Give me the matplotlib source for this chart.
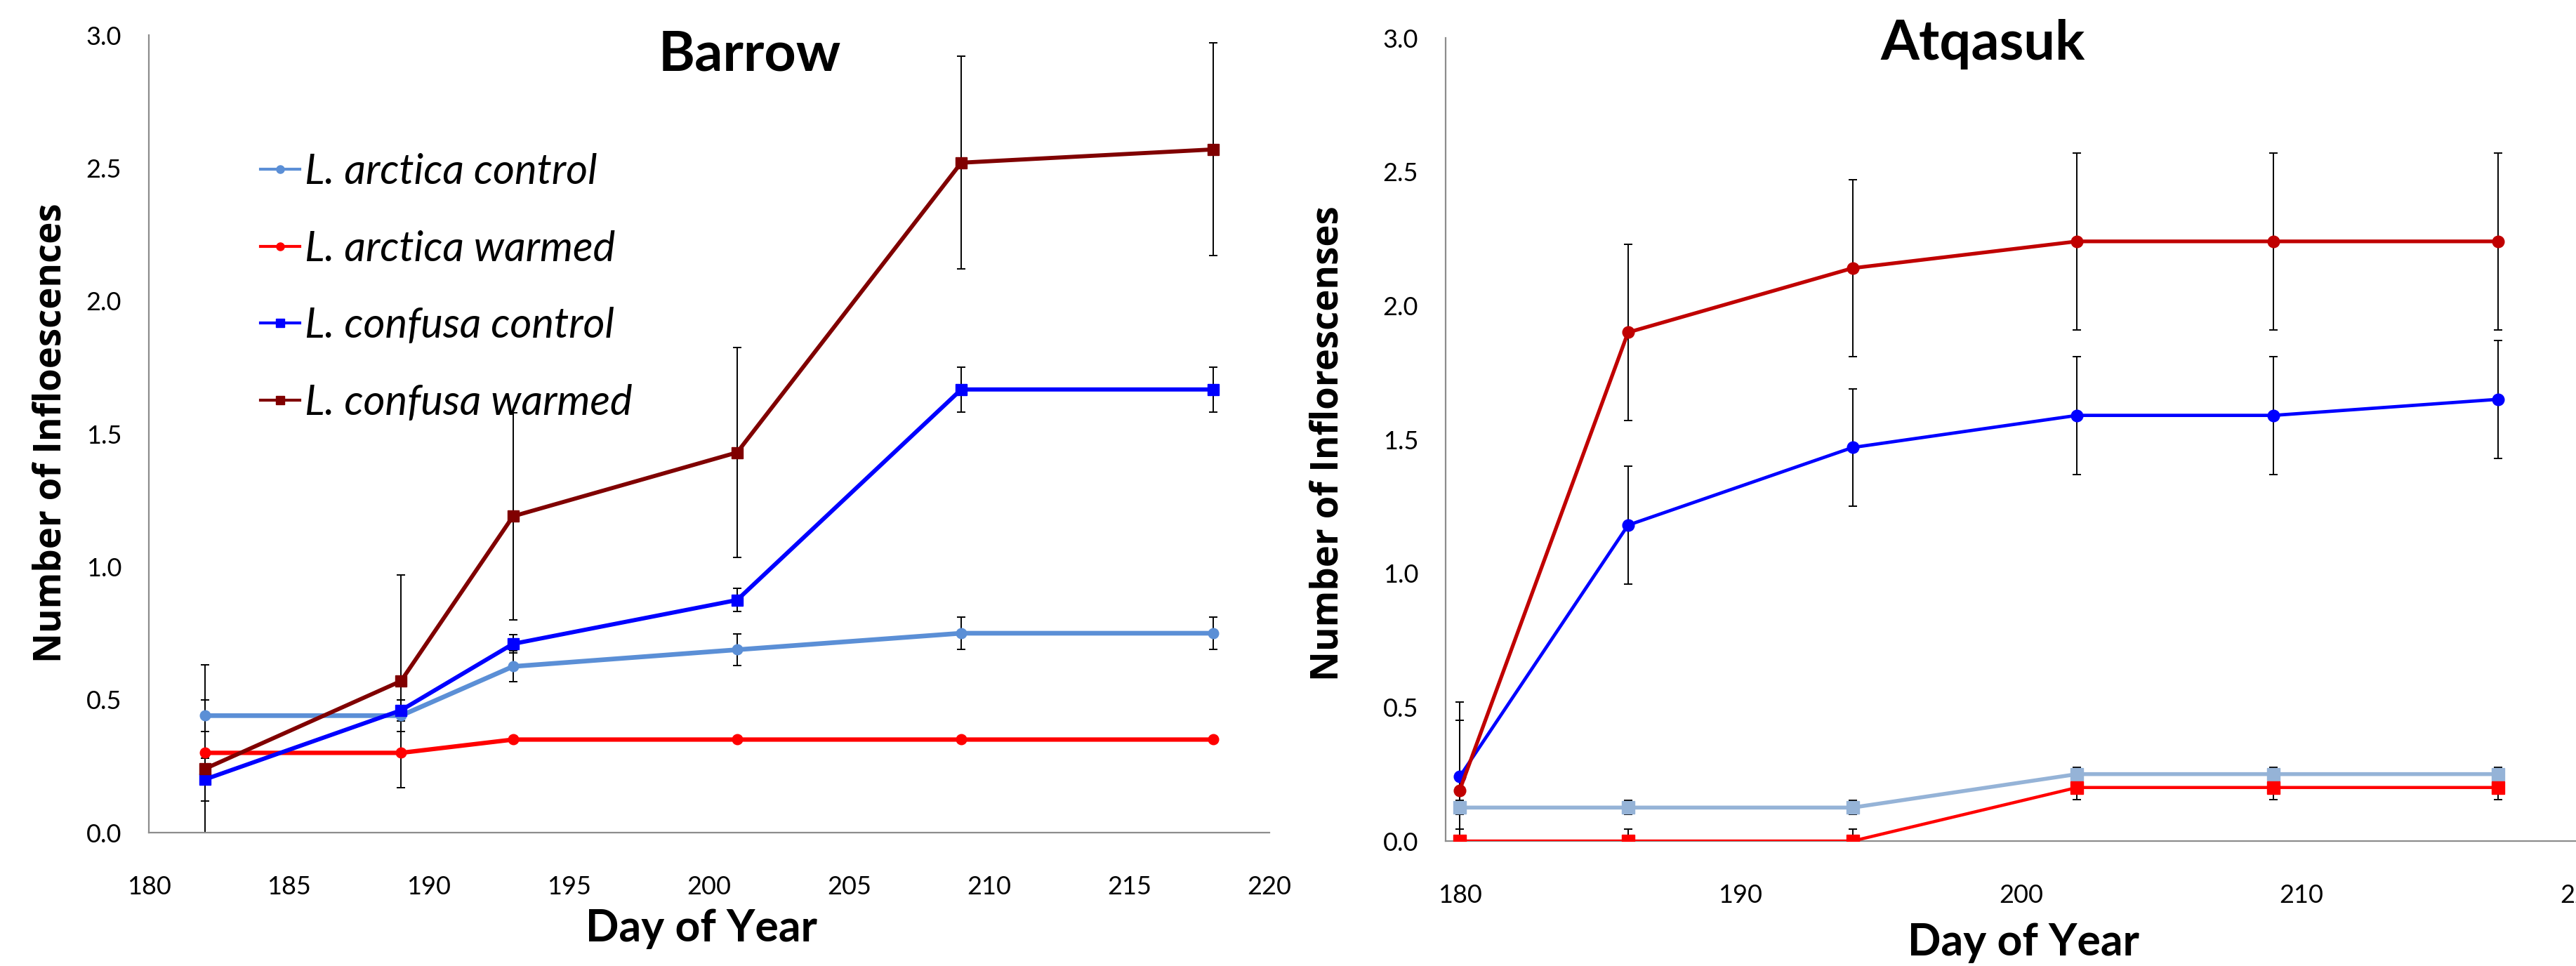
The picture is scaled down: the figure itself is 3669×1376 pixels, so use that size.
import matplotlib.pyplot as plt
from matplotlib.lines import Line2D

plt.rcParams['font.family'] = ['Lato', 'DejaVu Sans']

# Barrow
days_b = [182, 189, 193, 201, 209, 218]
arctica_ctl_b = [0.44, 0.44, 0.625, 0.688, 0.75, 0.75]
arctica_ctl_b_err = [0.06, 0.06, 0.058, 0.06, 0.06, 0.06]
arctica_wrm_b = [0.30, 0.30, 0.35, 0.35, 0.35, 0.35]
arctica_wrm_b_err = [0, 0, 0, 0, 0, 0]
confusa_ctl_b = [0.20, 0.46, 0.71, 0.875, 1.667, 1.667]
confusa_ctl_b_err = [0.08, 0.04, 0.035, 0.043, 0.084, 0.084]
confusa_wrm_b = [0.24, 0.57, 1.19, 1.43, 2.52, 2.57]
confusa_wrm_b_err = [0.39, 0.40, 0.39, 0.395, 0.40, 0.40]

# Atqasuk
days_a = [180, 186, 194, 202, 209, 217]
wrm_circ_a = [0.19, 1.90, 2.14, 2.24, 2.24, 2.24]
wrm_circ_a_err = [0.26, 0.33, 0.33, 0.33, 0.33, 0.33]
ctl_circ_a = [0.24, 1.18, 1.47, 1.59, 1.59, 1.65]
ctl_circ_a_err = [0.28, 0.22, 0.22, 0.22, 0.22, 0.22]
ctl_sq_a = [0.125, 0.125, 0.125, 0.25, 0.25, 0.25]
ctl_sq_a_err = [0.026, 0.026, 0.026, 0.026, 0.026, 0.026]
wrm_sq_a = [0.0, 0.0, 0.0, 0.2, 0.2, 0.2]
wrm_sq_a_err = [0.045, 0.045, 0.045, 0.045, 0.045, 0.045]

yticks = [0.0, 0.5, 1.0, 1.5, 2.0, 2.5, 3.0]

W, H = 3669, 1376
fig = plt.figure(figsize=(W / 100, H / 100), dpi=100)


def frac(x0, x1, y0, y1):
    # pixel box (y measured from top) -> figure fraction rect
    return [x0 / W, 1 - y1 / H, (x1 - x0) / W, (y1 - y0) / H]


def style_axes(ax):
    for s in ['top', 'right']:
        ax.spines[s].set_visible(False)
    for s in ['left', 'bottom']:
        ax.spines[s].set_color('#8c8c8c')
        ax.spines[s].set_linewidth(1.6)
    ax.set_ylim(0, 3)
    ax.set_yticks(yticks)
    ax.set_yticklabels([f'{v:.1f}' for v in yticks])
    ax.tick_params(length=0, labelsize=26)
    ax.tick_params(axis='y', pad=28)
    ax.tick_params(axis='x', pad=44)


def series(ax, x, y, err, color, marker, lw, ms):
    ax.errorbar(x, y, yerr=err, fmt='none', ecolor='black', elinewidth=1.4,
                capsize=4.3, capthick=1.4, zorder=2)
    ax.plot(x, y, color=color, marker=marker, lw=lw, ms=ms, zorder=3)


# ---- left: Barrow
ax1 = fig.add_axes(frac(212, 1808, 50, 1186))
style_axes(ax1)
ax1.set_xlim(180, 220)
ax1.set_xticks(range(180, 221, 5))
series(ax1, days_b, arctica_ctl_b, arctica_ctl_b_err, '#5b8fd6', 'o', 4.8, 10.5)
series(ax1, days_b, arctica_wrm_b, arctica_wrm_b_err, '#ff0000', 'o', 4.5, 10.5)
series(ax1, days_b, confusa_ctl_b, confusa_ctl_b_err, '#0000ff', 's', 4.3, 11.5)
series(ax1, days_b, confusa_wrm_b, confusa_wrm_b_err, '#800000', 's', 4.2, 11.5)

handles = [
    Line2D([], [], color='#5b8fd6', marker='o', lw=3, ms=8),
    Line2D([], [], color='#ff0000', marker='o', lw=3, ms=8),
    Line2D([], [], color='#0000ff', marker='s', lw=3, ms=8.5),
    Line2D([], [], color='#800000', marker='s', lw=3, ms=8.5),
]
labels = ['L. arctica control', 'L. arctica warmed',
          'L. confusa control', 'L. confusa warmed']
ax1.legend(handles, labels, loc='upper left', bbox_to_anchor=(0.0996, 0.852),
           frameon=False, prop={'style': 'italic', 'size': 43},
           handlelength=0.93, handletextpad=0.12, labelspacing=0.93,
           borderpad=0, borderaxespad=0)

ax1.text(0.536, 0.975, 'Barrow', transform=ax1.transAxes, ha='center',
         va='center', fontsize=57, fontweight='bold')
fig.text(999 / W, 1 - 1323 / H, 'Day of Year', ha='center', va='center',
         fontsize=45, fontweight='bold')
fig.text(73 / W, 1 - 617 / H, 'Number of Infloescences', ha='center',
         va='center', rotation=90, fontsize=38, fontweight='bold',
         family=['Open Sans', 'DejaVu Sans'])

# ---- right: Atqasuk
ax2 = fig.add_axes(frac(2059, 3678, 54, 1198))
style_axes(ax2)
ax2.set_xlim(179.5, 220)
ax2.set_xticks(range(180, 221, 10))
series(ax2, days_a, ctl_sq_a, ctl_sq_a_err, '#95b3d7', 's', 4.0, 13)
series(ax2, days_a, wrm_sq_a, wrm_sq_a_err, '#ff0000', 's', 3.2, 13)
series(ax2, days_a, ctl_circ_a, ctl_circ_a_err, '#0000ff', 'o', 3.4, 12)
series(ax2, days_a, wrm_circ_a, wrm_circ_a_err, '#c00000', 'o', 3.8, 12)

ax2.text(0.4725, 0.992, 'Atqasuk', transform=ax2.transAxes, ha='center',
         va='center', fontsize=57, fontweight='bold', clip_on=False)
fig.text(2882 / W, 1 - 1343 / H, 'Day of Year', ha='center', va='center',
         fontsize=45, fontweight='bold')
fig.text(1891 / W, 1 - 632 / H, 'Number of Inflorescenses', ha='center',
         va='center', rotation=90, fontsize=38, fontweight='bold',
         family=['Open Sans', 'DejaVu Sans'])

fig.savefig('out.png', dpi=100)
